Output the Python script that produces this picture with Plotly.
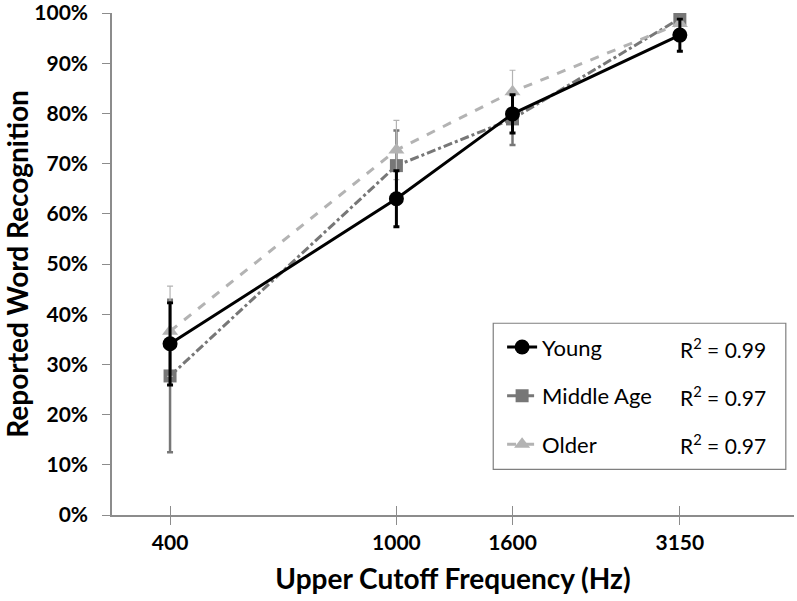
import plotly.graph_objects as go

freqs = [400, 1000, 1600, 3150]
tick_labels = ["400", "1000", "1600", "3150"]

young = [0.341, 0.630, 0.799, 0.956]
young_err = [0.082, 0.056, 0.038, 0.032]
middle = [0.277, 0.696, 0.789, 0.989]
middle_err = [0.152, 0.070, 0.052, 0.012]
older = [0.366, 0.727, 0.843, 0.979]
older_err = [0.090, 0.059, 0.043, 0.012]

series_names = ["Young", "Middle Age", "Older"]
r2_labels = ["R<sup>2</sup> = 0.99", "R<sup>2</sup> = 0.97", "R<sup>2</sup> = 0.97"]

FONT = "Lato"

fig = go.Figure()

fig.add_trace(go.Scatter(
    x=freqs, y=middle, name=series_names[1], mode="lines+markers",
    legendgroup="m", legendrank=2,
    line=dict(color="#777777", width=3, dash="dashdot"),
    marker=dict(symbol="square", size=13, color="#777777"),
    error_y=dict(type="data", array=middle_err, color="#777777", thickness=2.5, width=3),
))
fig.add_trace(go.Scatter(
    x=freqs, y=older, name=series_names[2], mode="lines+markers",
    legendgroup="o", legendrank=3,
    line=dict(color="#b3b3b3", width=3, dash="dash"),
    marker=dict(symbol="triangle-up", size=14, color="#b3b3b3"),
    error_y=dict(type="data", array=older_err, color="#b3b3b3", thickness=1.2, width=3),
))
fig.add_trace(go.Scatter(
    x=freqs, y=young, name=series_names[0], mode="lines+markers",
    legendgroup="y", legendrank=1,
    line=dict(color="#000000", width=3),
    marker=dict(symbol="circle", size=15, color="#000000"),
    error_y=dict(type="data", array=young_err, color="#000000", thickness=3, width=3),
))

# secondary x axis to draw the inner half of the crossing tick marks
fig.add_trace(go.Scatter(x=[freqs[0]], y=[None], xaxis="x2", showlegend=False, hoverinfo="skip"))

axis_color = "#8c8c8c"

fig.update_layout(
    width=797, height=601,
    margin=dict(l=111.5, r=3, t=13, b=86, autoexpand=False),
    paper_bgcolor="white", plot_bgcolor="white",
    font=dict(family=FONT, color="black"),
    showlegend=True,
    legend=dict(
        x=0.572, y=0.376, xanchor="left", yanchor="top",
        bgcolor="rgba(0,0,0,0)", borderwidth=0,
        font=dict(family=FONT, size=22, color="black"),
        traceorder="grouped", tracegroupgap=17,
        itemwidth=30,
    ),
    xaxis=dict(
        type="log", range=[2.5, 3.699], automargin=False,
        tickvals=freqs, ticktext=tick_labels,
        ticks="outside", ticklen=8, tickwidth=1, tickcolor=axis_color,
        showline=True, linecolor=axis_color, linewidth=1.5,
        showgrid=False, zeroline=False, ticklabeloverflow="allow",
        tickfont=dict(family=FONT, size=21, color="black", weight="bold"),
        title=dict(text="Upper Cutoff Frequency (Hz)", standoff=16,
                   font=dict(family=FONT, size=28, color="black", weight="bold")),
    ),
    xaxis2=dict(
        type="log", range=[2.5, 3.699], overlaying="x", anchor="y", side="bottom",
        tickvals=freqs, ticks="inside", ticklen=9, tickwidth=1, tickcolor=axis_color,
        showticklabels=False, showgrid=False, zeroline=False, showline=False,
        automargin=False,
    ),
    yaxis=dict(
        range=[0, 1], tickvals=[i / 10 for i in range(11)], tickformat=".0%",
        automargin=False,
        ticks="outside", ticklen=8, tickwidth=1, tickcolor=axis_color,
        showline=True, linecolor=axis_color, linewidth=1.5,
        showgrid=False, zeroline=False, ticklabeloverflow="allow",
        ticklabelstandoff=10,
        tickfont=dict(family=FONT, size=21, color="black", weight="bold"),
        title=dict(text="Reported Word Recognition", standoff=18,
                   font=dict(family=FONT, size=28, color="black", weight="bold")),
    ),
)

# legend frame
fig.add_shape(type="rect", xref="paper", yref="paper",
              x0=0.559, x1=0.988, y0=0.091, y1=0.382,
              line=dict(color="#7f7f7f", width=1.2), fillcolor="rgba(0,0,0,0)", layer="above")

# R^2 labels
r2_y = [0.333, 0.238, 0.141]
for txt, yy in zip(r2_labels, r2_y):
    fig.add_annotation(text=txt, xref="paper", yref="paper", x=0.962, y=yy,
                       xanchor="right", yanchor="middle", showarrow=False,
                       font=dict(family=FONT, size=21, color="black"))

fig.write_html("out.html", config={"displayModeBar": False},
               post_script="document.body.style.margin='0px';")
